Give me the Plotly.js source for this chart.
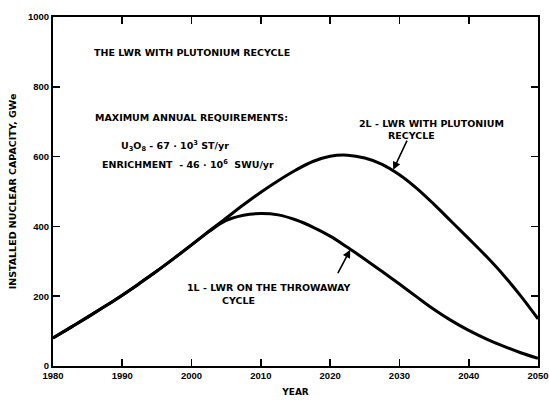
<!DOCTYPE html>
<html>
<head>
<meta charset="utf-8">
<script src="https://cdn.plot.ly/plotly-3.0.1.min.js"></script>
<style>html,body{margin:0;padding:0;background:#fff;}#chart{width:549px;height:404px;}</style>
</head>
<body>
<div id="chart"></div>
<script>
// Data
const years = [1980, 1982.5, 1985, 1987.5, 1990, 1992.5, 1995, 1997.5, 2000, 2002.5, 2005, 2007.5,
               2010, 2012.5, 2015, 2017.5, 2020, 2022.5, 2025, 2027.5, 2030, 2032.5, 2035, 2037.5,
               2040, 2042.5, 2045, 2047.5, 2050];
const recycle2L = [80, 110, 140, 171, 203, 237, 272, 309, 347, 386, 424, 462,
                   498, 531, 561, 586, 601, 604, 596, 578, 548, 509, 463, 414,
                   365, 315, 261, 201, 135];
const throwaway1L = [80, 110, 140, 171, 203, 237, 272, 309, 347, 385, 417, 432,
                     437, 433, 419, 398, 372, 340, 306, 271, 235, 198, 162, 130,
                     102, 78, 57, 38, 22];
const xTicks = [1980, 1990, 2000, 2010, 2020, 2030, 2040, 2050];
const yTicks = [0, 200, 400, 600, 800, 1000];

const FONT = "Liberation Sans, Arial, sans-serif";
const FONT2 = "DejaVu Sans, Verdana, sans-serif";
const lineStyle = {color: '#000', width: 3, shape: 'spline', smoothing: 1};

const traces = [
  {x: years, y: recycle2L, mode: 'lines', line: lineStyle, hoverinfo: 'skip', showlegend: false},
  {x: years, y: throwaway1L, mode: 'lines', line: lineStyle, hoverinfo: 'skip', showlegend: false}
];

const txt = {family: FONT2, size: 9.5, color: '#000', weight: 'bold'};
function note(x, y, text) {
  return {x: x, y: y, xref: 'x', yref: 'y', text: text, showarrow: false,
          xanchor: 'left', yanchor: 'middle', font: txt};
}
function arrow(x, y, ax, ay) {
  return {x: x, y: y, ax: ax, ay: ay, xref: 'x', yref: 'y', axref: 'x', ayref: 'y',
          text: '', showarrow: true, arrowhead: 2, arrowsize: 1, arrowwidth: 1.6,
          arrowcolor: '#000', standoff: 0, startstandoff: 0};
}

const layout = {
  width: 549, height: 404,
  margin: {l: 53, r: 11, t: 17, b: 38},
  paper_bgcolor: '#fff', plot_bgcolor: '#fff',
  font: {family: FONT, color: '#000'},
  xaxis: {
    range: [1980, 2050], tickvals: xTicks, ticktext: xTicks.map(String),
    ticks: 'inside', ticklen: 7, tickwidth: 1.6, tickcolor: '#000',
    showline: true, linewidth: 2, linecolor: '#000', mirror: 'allticks',
    showgrid: false, zeroline: false,
    tickfont: {family: FONT, size: 9.5, color: '#000', weight: 'bold'},
    title: {text: 'YEAR', font: {family: FONT2, size: 9, color: '#000', weight: 'bold'}, standoff: 8}
  },
  yaxis: {
    range: [0, 1000], tickvals: yTicks, ticktext: yTicks.map(String),
    ticks: 'inside', ticklen: 7, tickwidth: 1.6, tickcolor: '#000',
    showline: true, linewidth: 2, linecolor: '#000', mirror: 'allticks',
    showgrid: false, zeroline: false,
    tickfont: {family: FONT, size: 9.5, color: '#000', weight: 'bold'},
    title: {text: 'INSTALLED NUCLEAR CAPACITY, GWe', font: {family: FONT2, size: 9.5, color: '#000', weight: 'bold'}, standoff: 10}
  },
  annotations: [
    note(1985.6, 897, 'THE LWR WITH PLUTONIUM RECYCLE'),
    note(1985.8, 713, 'MAXIMUM ANNUAL REQUIREMENTS:'),
    note(1989.5, 630, 'U<sub>3</sub>O<sub>8</sub> - 67 · 10<sup>3</sup> ST/yr'),
    note(1986.8, 579, 'ENRICHMENT  - 46 · 10<sup>6</sup>  SWU/yr'),
    note(2023.9, 695, '2L - LWR WITH PLUTONIUM'),
    note(2028.1, 661, 'RECYCLE'),
    note(1999.1, 224, '1L - LWR ON THE THROWAWAY'),
    note(2004.1, 189, 'CYCLE'),
    arrow(2029.1, 562, 2031.2, 650),
    arrow(2022.9, 333, 2021.0, 262)
  ]
};

Plotly.newPlot('chart', traces, layout, {staticPlot: true, displayModeBar: false});
</script>
</body>
</html>
